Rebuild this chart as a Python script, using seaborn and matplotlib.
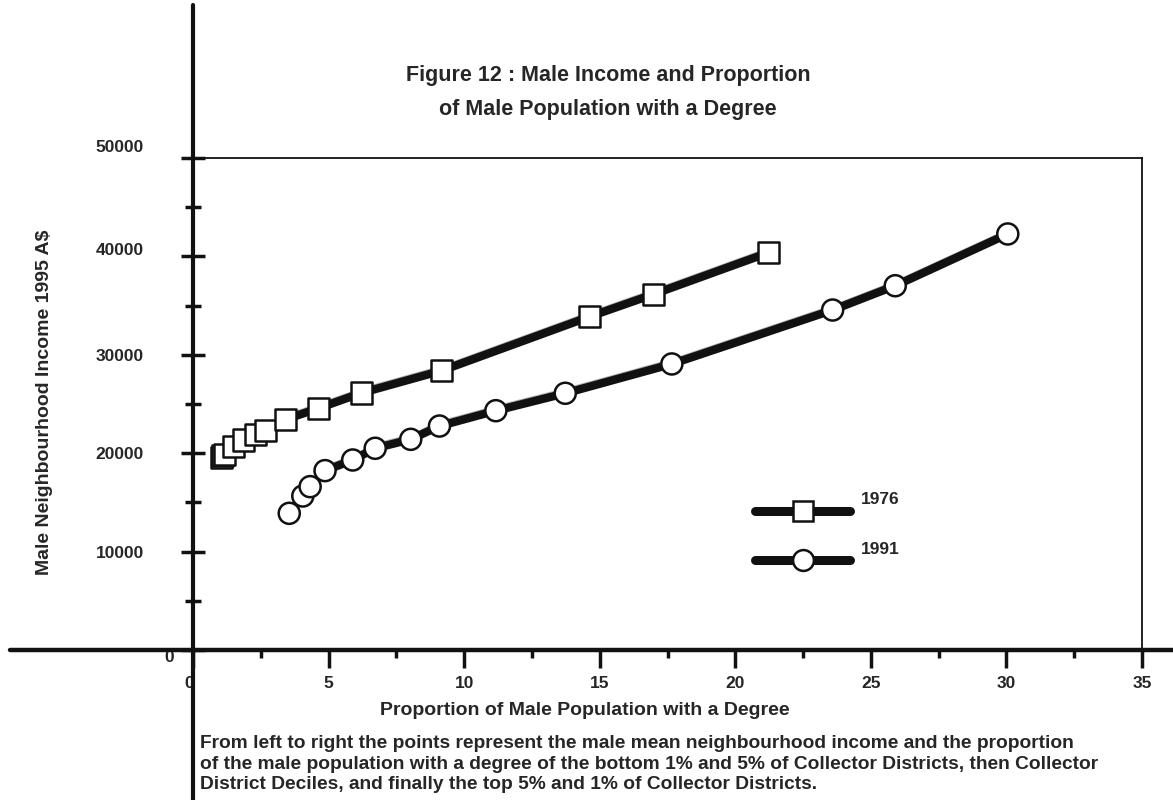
import pandas as pd
import matplotlib
matplotlib.use('Agg')
import matplotlib.pyplot as plt
import matplotlib.patheffects as pe
import matplotlib.transforms as mtransforms
from matplotlib.lines import Line2D
from matplotlib.ticker import MultipleLocator
import seaborn as sns

# values
years = ['1976', '1991']
degree_1976 = [1.05, 1.10, 1.15, 1.49, 1.86, 2.32, 2.66, 3.40, 4.62, 6.21, 9.17, 14.62, 16.98, 21.21]
income_1976 = [19600, 19750, 19900, 20650, 21340, 21860, 22300, 23420, 24560, 26120, 28390, 33870, 36150, 40370]
degree_1991 = [3.55, 4.05, 4.32, 4.87, 5.89, 6.72, 8.03, 9.09, 11.17, 13.73, 17.66, 23.59, 25.90, 30.05]
income_1991 = [13890, 15650, 16600, 18230, 19310, 20500, 21410, 22760, 24320, 26090, 29070, 34550, 37020, 42280]

x_ticks = [0, 5, 10, 15, 20, 25, 30, 35]
y_ticks = [0, 10000, 20000, 30000, 40000, 50000]

title_lines = ['Figure 12 : Male Income and Proportion', 'of Male Population with a Degree']
xlabel = 'Proportion of Male Population with a Degree'
ylabel = 'Male Neighbourhood Income 1995 A$'
caption = ('From left to right the points represent the male mean neighbourhood income and the proportion\n'
           'of the male population with a degree of the bottom 1% and 5% of Collector Districts, then Collector\n'
           'District Deciles, and finally the top 5% and 1% of Collector Districts.')

df = pd.concat([
    pd.DataFrame({'degree': degree_1976, 'income': income_1976, 'year': years[0]}),
    pd.DataFrame({'degree': degree_1991, 'income': income_1991, 'year': years[1]}),
], ignore_index=True)

sns.set_style('white')
plt.rcParams['font.family'] = ['Liberation Sans', 'DejaVu Sans']
plt.rcParams['font.weight'] = 'bold'

ink = '#111111'
fig = plt.figure(figsize=(11.73, 8), dpi=100)
ax = fig.add_axes([193 / 1173, 150 / 800, 949 / 1173, 492 / 800])

sns.lineplot(data=df, x='degree', y='income', hue='year', palette={y: ink for y in years},
             sort=False, estimator=None, linewidth=6, legend=False, ax=ax)
for line in ax.lines:
    line.set_path_effects([pe.SimpleLineShadow(offset=(0.4, 3.4), shadow_color='#b5b5b5',
                                               alpha=1, linewidth=1), pe.Normal()])
sns.scatterplot(data=df, x='degree', y='income', style='year', markers={'1976': 's', '1991': 'o'},
                s=230, color='white', edgecolor=ink, linewidth=1.8, legend=False, zorder=3, ax=ax)

ax.set_xlim(0, 35)
ax.set_ylim(0, 50000)
ax.set_xticks(x_ticks)
ax.set_yticks(y_ticks)
ax.set_xticklabels([str(v) for v in x_ticks])
ax.set_yticklabels([str(v) for v in y_ticks])
ax.xaxis.set_minor_locator(MultipleLocator(2.5))
ax.yaxis.set_minor_locator(MultipleLocator(5000))
ax.tick_params(axis='x', which='major', direction='out', length=13, width=2.5, color=ink,
               pad=6, labelsize=12.5)
ax.tick_params(axis='x', which='minor', direction='out', length=6, width=2.5, color=ink)
ax.tick_params(axis='y', which='major', direction='inout', length=17, width=2.5, color=ink,
               pad=27, labelsize=12.5, left=True)
ax.tick_params(axis='y', which='minor', direction='inout', length=11, width=2.5, color=ink, left=True)
ax.tick_params(axis='x', which='both', bottom=True)

# small nudges of some y tick labels, as in the original
nudges = {0: (30, -6), 4: (0, 7), 5: (0, 12)}
for i, (dx, dy) in nudges.items():
    lab = ax.yaxis.get_major_ticks()[i].label1
    lab.set_transform(lab.get_transform() + mtransforms.Affine2D().translate(dx, dy))
xlab0 = ax.xaxis.get_major_ticks()[0].label1
xlab0.set_transform(xlab0.get_transform() + mtransforms.Affine2D().translate(-4, 0))

for side in ['left', 'bottom']:
    ax.spines[side].set_visible(False)
for side in ['top', 'right']:
    ax.spines[side].set_linewidth(1.3)
    ax.spines[side].set_color(ink)

# long axis lines running past the frame
fig.add_artist(Line2D([193 / 1173, 193 / 1173], [0, 0.994], color=ink, lw=3, transform=fig.transFigure))
fig.add_artist(Line2D([10 / 1173, 1.0], [150 / 800, 150 / 800], color=ink, lw=3.2, transform=fig.transFigure))

ax.set_xlabel(xlabel, fontsize=14, fontweight='bold')
ax.xaxis.set_label_coords(392 / 949, -52 / 492)
ax.set_ylabel(ylabel, fontsize=14, fontweight='bold')
ax.yaxis.set_label_coords(-140 / 949, 248 / 492)

fig.text(608 / 1173, 1 - 75 / 800, title_lines[0], ha='center', va='center', fontsize=15.5, fontweight='bold')
fig.text(608 / 1173, 1 - 110 / 800, title_lines[1], ha='center', va='center', fontsize=15.5, fontweight='bold')

fig.text(200 / 1173, 1 - 735 / 800, caption, ha='left', va='top', fontsize=13.8, fontweight='bold',
         linespacing=1.28)

handles = [
    Line2D([], [], color=ink, lw=6.5, marker='s', markersize=15, markerfacecolor='white',
           markeredgecolor=ink, markeredgewidth=1.8),
    Line2D([], [], color=ink, lw=6.5, marker='o', markersize=15, markerfacecolor='white',
           markeredgecolor=ink, markeredgewidth=1.8),
]
leg = fig.legend(handles, years, loc='center left', bbox_to_anchor=(755 / 1173, 1 - 537 / 800),
                 frameon=False, handlelength=5.5, handletextpad=0.6, labelspacing=2.0,
                 borderpad=0, borderaxespad=0, prop={'size': 12.5, 'weight': 'bold'})
for t in leg.get_texts():
    t.set_y(13)

fig.savefig('out.png', dpi=100)
